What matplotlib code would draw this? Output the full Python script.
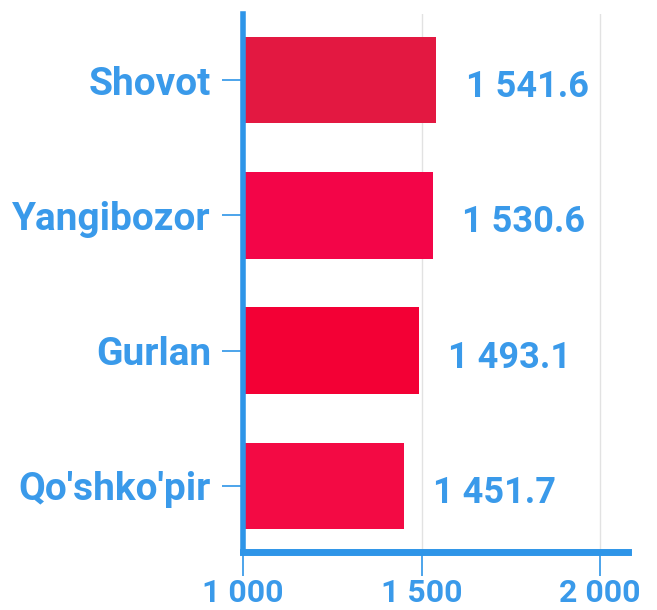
import matplotlib.pyplot as plt
import matplotlib.ticker as mticker

# Data
districts = ['Shovot', 'Yangibozor', 'Gurlan', "Qo'shko'pir"]
values = [1541.6, 1530.6, 1493.1, 1451.7]
bar_colors = ['#e31841', '#f30548', '#f30035', '#f30a44']
x_ticks = [1000, 1500, 2000]

blue_text = '#3a9aea'
blue_axis = '#2e95e8'

plt.rcParams['font.family'] = ['Roboto', 'DejaVu Sans']
plt.rcParams['font.weight'] = 'bold'

fig = plt.figure(figsize=(6.57, 6.10), dpi=100)
ax = fig.add_axes([243 / 657, 1 - 552 / 610, (628 - 243) / 657, (552 - 14) / 610])

ypos = list(range(len(districts)))
ax.barh(ypos, [v - 1000 for v in values], left=1000, height=0.64,
        color=bar_colors, zorder=3)

# value labels
def fmt_space(v, decimals=1):
    s = f'{v:,.{decimals}f}'
    return s.replace(',', ' ')

for y, v in zip(ypos, values):
    ax.annotate(fmt_space(v), xy=(v, y), xytext=(21, -5), textcoords='offset points',
                ha='left', va='center', fontsize=26, fontweight='bold',
                color=blue_text)

ax.set_xlim(1000, 2078)
ax.set_ylim(3.49, -0.49)
ax.set_yticks(ypos)
ax.set_yticklabels(districts)
ax.set_xticks(x_ticks)
ax.xaxis.set_major_formatter(mticker.FuncFormatter(lambda x, p: fmt_space(x, 0)))

ax.grid(axis='x', color='#e2e2e2', linewidth=1, zorder=0)
ax.grid(axis='y', visible=False)

for side in ['top', 'right']:
    ax.spines[side].set_visible(False)
ax.spines['left'].set_color(blue_axis)
ax.spines['left'].set_linewidth(4)
ax.spines['bottom'].set_color(blue_axis)
ax.spines['bottom'].set_linewidth(5)
ax.spines['left'].set_zorder(4)
ax.spines['bottom'].set_zorder(4)

ax.tick_params(axis='y', length=15, width=1.2, color=blue_axis, pad=8,
               labelsize=28, labelcolor=blue_text)
ax.tick_params(axis='x', length=17, width=1.2, color=blue_axis, pad=2,
               labelsize=23, labelcolor=blue_text)
for lab in ax.get_xticklabels() + ax.get_yticklabels():
    lab.set_fontweight('bold')
for lab in ax.get_yticklabels():
    lab.set_verticalalignment('center_baseline')

fig.savefig('out.png', dpi=100)
